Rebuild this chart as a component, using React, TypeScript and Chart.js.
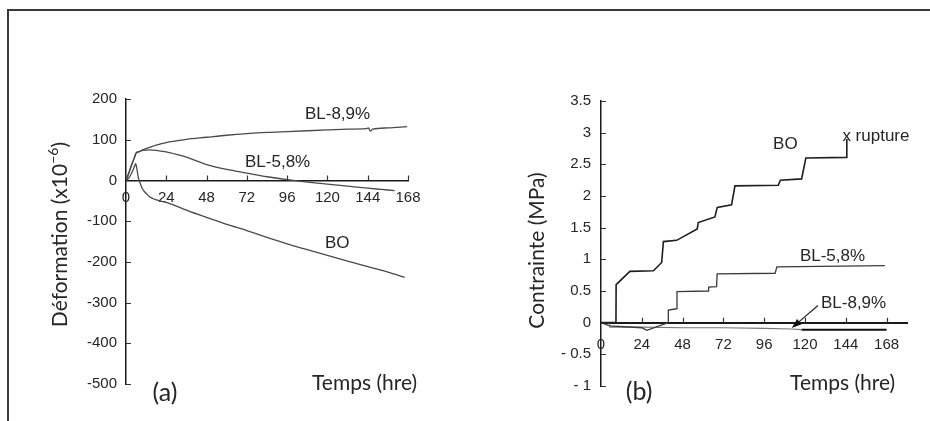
import React, { useEffect, useRef } from 'react';
import { Chart, registerables } from 'chart.js';

Chart.register(...registerables);

// ---------- Panel (a) : Déformation vs Temps ----------
const tA_BL89 = [0, 1, 2, 3, 4, 5, 6, 8, 10, 14, 18, 24, 30, 36, 48, 60, 72, 84, 96, 108, 120, 132, 143, 144.5, 145.5, 147, 156, 167.5];
const eA_BL89 = [0, 11, 22, 34, 45, 56, 67, 71, 75, 81, 87, 93, 97, 101, 106, 111, 115, 118, 120, 122, 124, 126, 127, 129, 121, 126, 129, 132];

const tA_BL58 = [0, 1, 2, 3, 4, 5, 6, 8, 10, 14, 18, 24, 30, 36, 42, 48, 60, 72, 84, 96, 108, 120, 132, 144, 152, 160];
const eA_BL58 = [0, 11, 22, 34, 45, 56, 67, 71, 74, 75, 74, 70, 64, 57, 48, 39, 27, 18, 9, 2, -4, -9, -14, -19, -22, -25];

const tA_BO = [0, 1, 2, 3, 4, 5, 5.8, 6.5, 7.3, 8.3, 9.3, 10.5, 12.3, 14, 16.3, 20, 24, 30, 36, 48, 60, 72, 84, 96, 108, 120, 132, 144, 156, 166];
const eA_BO = [0, 3, 8, 15, 24, 34, 41, 28, 8, -5, -16, -25, -33, -40, -45, -50, -54, -63, -73, -91, -108, -123, -140, -156, -170, -184, -198, -212, -225, -238];

// ---------- Panel (b) : Contrainte vs Temps ----------
const tB_BO = [0, 5, 8.8, 8.9, 17, 30.8, 35.7, 36.7, 44.5, 56.6, 57.2, 67, 68.4, 76.8, 78.8, 104.3, 105.5, 118, 120.5, 144.5, 144.6];
const sB_BO = [0, 0, 0, 0.6, 0.81, 0.82, 0.95, 1.28, 1.3, 1.48, 1.58, 1.67, 1.82, 1.86, 2.16, 2.17, 2.25, 2.27, 2.6, 2.61, 2.9];

const tB_BL58 = [0, 5, 24, 27, 39.5, 39.6, 44.5, 44.7, 63, 63.3, 68, 68.3, 102.4, 103.5, 167];
const sB_BL58 = [0, -0.05, -0.08, -0.12, 0, 0.2, 0.22, 0.49, 0.5, 0.56, 0.57, 0.77, 0.78, 0.88, 0.9];

const tB_BL89 = [0, 5, 5.3, 24, 48, 72, 96, 112, 118, 123, 168];
const sB_BL89 = [0, 0, -0.07, -0.07, -0.08, -0.08, -0.09, -0.1, -0.11, -0.11, -0.11];

// ---------- ticks ----------
const timeTicks = [0, 24, 48, 72, 96, 120, 144, 168];
const strainTicks = [-500, -400, -300, -200, -100, 0, 100, 200];
const stressTicks = [-1, -0.5, 0, 0.5, 1, 1.5, 2, 2.5, 3, 3.5];
const stressTickLabels = ['- 1', '- 0.5', '0', '0.5', '1', '1.5', '2', '2.5', '3', '3.5'];

const TICK_FONT = '"Liberation Sans", Arial, Helvetica, sans-serif';
const TITLE_FONT = 'Lato, "Open Sans", "DejaVu Sans", sans-serif';
const LBL = `17px ${TICK_FONT}`;
const TXT = '#262626';

const pts = (xs: number[], ys: number[]) => xs.map((x, i) => ({ x, y: ys[i] }));

const decor = {
  id: 'decor',
  afterDraw(chart: any, _args: any, o: any) {
    const { ctx, chartArea } = chart;
    const xs = chart.scales.x;
    const ys = chart.scales.y;
    const ox = xs.getPixelForValue(0);
    const oy = ys.getPixelForValue(0);
    ctx.save();
    // inner tick marks
    ctx.strokeStyle = '#333';
    ctx.lineWidth = 1.2;
    ctx.beginPath();
    for (const t of xs.ticks) {
      if (t.value === 0) continue;
      const px = Math.round(xs.getPixelForValue(t.value)) + 0.5;
      ctx.moveTo(px, oy);
      ctx.lineTo(px, oy - 5);
    }
    for (const t of ys.ticks) {
      if (t.value === 0) continue;
      const py = Math.round(ys.getPixelForValue(t.value)) + 0.5;
      ctx.moveTo(ox, py);
      ctx.lineTo(ox + 5, py);
    }
    ctx.stroke();

    // text labels
    ctx.fillStyle = TXT;
    ctx.textBaseline = 'middle';
    for (const l of o.labels) {
      ctx.font = l.font;
      ctx.textAlign = l.align || 'left';
      ctx.fillText(l.text, xs.getPixelForValue(l.x), ys.getPixelForValue(l.y));
    }

    // arrow
    if (o.arrow) {
      const x1 = xs.getPixelForValue(o.arrow.from[0]);
      const y1 = ys.getPixelForValue(o.arrow.from[1]);
      const x2 = xs.getPixelForValue(o.arrow.to[0]);
      const y2 = ys.getPixelForValue(o.arrow.to[1]);
      const ang = Math.atan2(y2 - y1, x2 - x1);
      ctx.strokeStyle = '#222';
      ctx.lineWidth = 1.2;
      ctx.beginPath();
      ctx.moveTo(x1, y1);
      ctx.lineTo(x2 - 6 * Math.cos(ang), y2 - 6 * Math.sin(ang));
      ctx.stroke();
      ctx.fillStyle = '#111';
      ctx.beginPath();
      ctx.moveTo(x2, y2);
      ctx.lineTo(x2 - 10 * Math.cos(ang) + 3.5 * Math.sin(ang), y2 - 10 * Math.sin(ang) - 3.5 * Math.cos(ang));
      ctx.lineTo(x2 - 10 * Math.cos(ang) - 3.5 * Math.sin(ang), y2 - 10 * Math.sin(ang) + 3.5 * Math.cos(ang));
      ctx.closePath();
      ctx.fill();
    }

    // rotated y title with optional superscript
    const yt = o.yTitle;
    ctx.translate(chartArea.left - yt.offset, ys.getPixelForValue(yt.y));
    ctx.rotate(-Math.PI / 2);
    ctx.fillStyle = TXT;
    ctx.textAlign = 'left';
    ctx.textBaseline = 'middle';
    const mainFont = `21px ${TITLE_FONT}`;
    const supFont = `14px ${TITLE_FONT}`;
    let total = 0;
    for (const p of yt.parts) {
      ctx.font = p.sup ? supFont : mainFont;
      total += ctx.measureText(p.text).width;
    }
    let cx = -total / 2;
    for (const p of yt.parts) {
      ctx.font = p.sup ? supFont : mainFont;
      ctx.fillText(p.text, cx, p.sup ? -7 : 0);
      cx += ctx.measureText(p.text).width;
    }
    ctx.restore();
  },
};

function baseOptions(opts: any) {
  return {
    animation: false,
    responsive: false,
    maintainAspectRatio: false,
    events: [],
    layout: { padding: opts.padding },
    plugins: {
      legend: { display: false },
      tooltip: { enabled: false },
      decor: opts.decor,
    },
    scales: {
      x: {
        type: 'linear',
        min: 0,
        max: opts.xMax,
        position: { y: 0 },
        afterBuildTicks: (s: any) => {
          s.ticks = timeTicks.map((v) => ({ value: v }));
        },
        grid: { display: false, drawTicks: false },
        border: { display: true, color: '#1a1a1a', width: opts.xAxisWidth },
        ticks: {
          autoSkip: false,
          maxRotation: 0,
          padding: opts.xTickPad,
          color: '#262626',
          font: { family: TICK_FONT, size: 15 },
        },
      },
      y: {
        type: 'linear',
        min: opts.yMin,
        max: opts.yMax,
        position: 'left',
        afterFit: (s: any) => {
          s.width = opts.yWidth;
        },
        afterBuildTicks: (s: any) => {
          s.ticks = opts.yTicks.map((v: number) => ({ value: v }));
        },
        grid: { display: false, drawTicks: false },
        border: { display: true, color: '#1a1a1a', width: 1.5 },
        ticks: {
          autoSkip: false,
          padding: opts.yTickPad,
          color: '#262626',
          font: { family: TICK_FONT, size: 15 },
          callback: opts.yCallback,
        },
      },
    },
  };
}

export default function App() {
  const refA = useRef<HTMLCanvasElement>(null);
  const refB = useRef<HTMLCanvasElement>(null);

  useEffect(() => {
    const lineA = { pointRadius: 0, fill: false, cubicInterpolationMode: 'monotone', borderColor: '#4a4a4a', borderWidth: 1.3 };
    const chartA = new Chart(refA.current as HTMLCanvasElement, {
      type: 'line',
      data: {
        datasets: [
          { label: 'BL-8,9%', data: pts(tA_BL89, eA_BL89), ...lineA },
          { label: 'BL-5,8%', data: pts(tA_BL58, eA_BL58), ...lineA },
          { label: 'BO', data: pts(tA_BO, eA_BO), ...lineA },
        ],
      },
      plugins: [decor],
      options: baseOptions({
        padding: { top: 99, bottom: 37, left: 0, right: 52 },
        xMax: 168,
        xAxisWidth: 1.5,
        xTickPad: 8,
        yMin: -500,
        yMax: 200,
        yWidth: 126,
        yTicks: strainTicks,
        yTickPad: 9,
        yCallback: (v: any) => String(v),
        decor: {
          labels: [
            { text: 'BL-8,9%', x: 106.6, y: 162, font: LBL },
            { text: 'BL-5,8%', x: 70.9, y: 44, font: LBL },
            { text: 'BO', x: 118.5, y: -155, font: LBL },
            { text: '(a)', x: 23.2, y: -521, font: `25px ${TITLE_FONT}`, align: 'center' },
            { text: 'Temps (hre)', x: 110.8, y: -499, font: `21px ${TITLE_FONT}` },
          ],
          yTitle: {
            offset: 66,
            y: -133,
            parts: [{ text: 'Déformation (x10' }, { text: '−6', sup: true }, { text: ')' }],
          },
        },
      }) as any,
    });

    const chartB = new Chart(refB.current as HTMLCanvasElement, {
      type: 'line',
      data: {
        datasets: [
          { label: 'BO', data: pts(tB_BO, sB_BO), pointRadius: 0, fill: false, tension: 0, borderColor: '#1e1e1e', borderWidth: 1.6 },
          { label: 'BL-5,8%', data: pts(tB_BL58, sB_BL58), pointRadius: 0, fill: false, tension: 0, borderColor: '#3a3a3a', borderWidth: 1.3 },
          {
            label: 'BL-8,9%',
            data: pts(tB_BL89, sB_BL89),
            pointRadius: 0,
            fill: false,
            tension: 0,
            borderColor: '#777',
            borderWidth: 1.1,
            segment: {
              borderColor: (c: any) => (c.p0.parsed.x >= 118 ? '#111' : '#777'),
              borderWidth: (c: any) => (c.p0.parsed.x >= 118 ? 2 : 1.1),
            },
          },
        ],
      },
      plugins: [decor],
      options: baseOptions({
        padding: { top: 101, bottom: 35, left: 0, right: 23 },
        xMax: 180,
        xAxisWidth: 2,
        xTickPad: 13,
        yMin: -1,
        yMax: 3.5,
        yWidth: 141,
        yTicks: stressTicks,
        yTickPad: 10,
        yCallback: (_v: any, i: number) => stressTickLabels[i],
        decor: {
          labels: [
            { text: 'BO', x: 101.2, y: 2.81, font: LBL },
            { text: 'x rupture', x: 142, y: 2.95, font: LBL },
            { text: 'BL-5,8%', x: 117, y: 1.04, font: LBL },
            { text: 'BL-8,9%', x: 129.4, y: 0.3, font: LBL },
            { text: '(b)', x: 22.4, y: -1.09, font: `25px ${TITLE_FONT}`, align: 'center' },
            { text: 'Temps (hre)', x: 111.2, y: -0.95, font: `21px ${TITLE_FONT}` },
          ],
          arrow: { from: [127.6, 0.27], to: [112.2, -0.085] },
          yTitle: {
            offset: 64,
            y: 1.14,
            parts: [{ text: 'Contrainte (MPa)' }],
          },
        },
      }) as any,
    });

    return () => {
      chartA.destroy();
      chartB.destroy();
    };
  }, []);

  return (
    <div style={{ position: 'fixed', left: 0, top: 0, width: 930, height: 421, overflow: 'hidden', background: '#fff' }}>
      <div
        style={{
          position: 'absolute',
          left: 7,
          top: 9,
          width: 960,
          height: 460,
          borderLeft: '2px solid #3a3a3a',
          borderTop: '2px solid #3a3a3a',
        }}
      />
      <canvas ref={refA} width={460} height={421} style={{ position: 'absolute', left: 0, top: 0, width: 460, height: 421 }} />
      <canvas ref={refB} width={470} height={421} style={{ position: 'absolute', left: 460, top: 0, width: 470, height: 421 }} />
    </div>
  );
}
